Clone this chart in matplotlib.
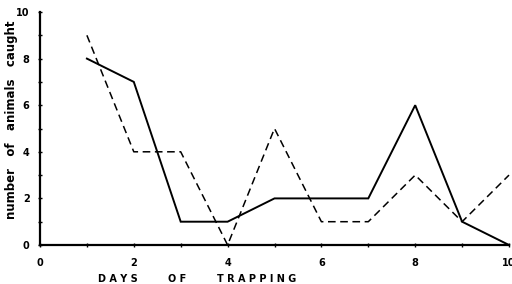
import matplotlib
matplotlib.use("Agg")
import matplotlib.pyplot as plt
from matplotlib.ticker import MultipleLocator

days = [1, 2, 3, 4, 5, 6, 7, 8, 9, 10]
solid_vals = [8, 7, 1, 1, 2, 2, 2, 6, 1, 0]
dashed_vals = [9, 4, 4, 0, 5, 1, 1, 3, 1, 3]
xticks = [0, 2, 4, 6, 8, 10]
yticks = [0, 2, 4, 6, 8, 10]
xlabel_words = ['DAYS', 'OF', 'TRAPPING']
ylabel_text = 'number   of   animals   caught'

fig = plt.figure(figsize=(5.12, 2.84), dpi=100)
ax = fig.add_axes([40/512, 1-245/284, (509-40)/512, (245-12)/284])
ax.plot(days, solid_vals, color='black', lw=1.4, solid_joinstyle='miter', clip_on=False)
ax.plot(days, dashed_vals, color='black', lw=1.1, ls=(0, (5, 3)), clip_on=False)
ax.set_xlim(0, 10)
ax.set_ylim(0, 10)
for s in ['top', 'right']:
    ax.spines[s].set_visible(False)
for s in ['left', 'bottom']:
    ax.spines[s].set_linewidth(1.6)
ax.set_xticks(xticks)
ax.set_yticks(yticks)
ax.xaxis.set_minor_locator(MultipleLocator(1))
ax.yaxis.set_minor_locator(MultipleLocator(1))
ax.tick_params(which='both', direction='inout', length=3, width=1)
ax.tick_params(axis='x', labelsize=7, pad=8)
ax.tick_params(axis='y', labelsize=7, pad=6)
for lab in ax.get_xticklabels() + ax.get_yticklabels():
    lab.set_fontweight('bold')

fig.text(12/512, 1-120/284, ylabel_text, rotation=90, fontsize=8.5, fontweight='bold',
         ha='center', va='center')
word_x = [118, 177, 257]
for w, xp in zip(xlabel_words, word_x):
    fig.text(xp/512, 1-279/284, ' '.join(w), fontsize=7, fontweight='bold',
             ha='center', va='center')
fig.savefig('out.png', dpi=100)
